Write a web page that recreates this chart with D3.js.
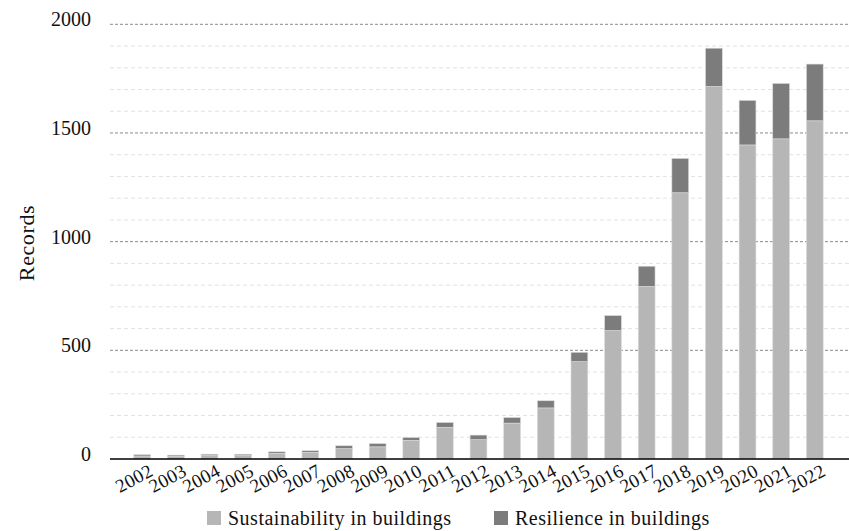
<!DOCTYPE html>
<html><head><meta charset="utf-8">
<script src="https://cdn.jsdelivr.net/npm/d3@7"></script>
<style>body{margin:0;background:#fff}svg{display:block}</style>
</head><body>
<svg id="c" width="849" height="531"></svg>
<script>
const years = ["2002","2003","2004","2005","2006","2007","2008","2009","2010","2011","2012","2013","2014","2015","2016","2017","2018","2019","2020","2021","2022"];
const sustainability = [14,13,16,16,26,31,48,56,86,146,89,165,235,448,591,794,1225,1714,1445,1473,1556];
const resilience = [6,5,6,6,7,7,13,15,13,22,21,26,33,43,69,93,158,176,205,255,261];
const majorTicks = [0,500,1000,1500,2000];
const minorTicks = d3.range(0,2001,100).filter(v => v % 500 !== 0);
const seriesNames = ["Sustainability in buildings","Resilience in buildings"];
const colors = ["#b6b6b6","#7b7c7b"];

const svg = d3.select("#c");
const font = "'Liberation Serif','DejaVu Serif',serif";
const x = d3.scaleBand().domain(years).range([117,840]).padding(0.5);
const y = d3.scaleLinear().domain([0,2000]).range([459,24.3]);

// minor grid
svg.append("g").selectAll("line").data(minorTicks).join("line")
  .attr("x1",110).attr("x2",849).attr("y1",d=>y(d)).attr("y2",d=>y(d))
  .attr("stroke","#e2e2e2").attr("stroke-width",1).attr("stroke-dasharray","4,3");
// major grid
svg.append("g").selectAll("line").data(majorTicks.filter(d=>d>0)).join("line")
  .attr("x1",110).attr("x2",849).attr("y1",d=>y(d)).attr("y2",d=>y(d))
  .attr("stroke","#8a8a8a").attr("stroke-width",1).attr("stroke-dasharray","3,2");

// stacked bars
const rows = years.map((yr,i)=>({year:yr, s:sustainability[i], r:resilience[i]}));
const stack = d3.stack().keys(["s","r"])(rows);
svg.append("g").selectAll("g").data(stack).join("g")
  .attr("fill",(d,i)=>colors[i])
  .selectAll("rect").data(d=>d).join("rect")
  .attr("x",d=>x(d.data.year)).attr("width",x.bandwidth())
  .attr("y",d=>y(d[1])).attr("height",d=>y(d[0])-y(d[1]))
  .attr("stroke","#dcdcdc").attr("stroke-width",0.6);

// x axis line
svg.append("line").attr("x1",110).attr("x2",849).attr("y1",y(0)).attr("y2",y(0))
  .attr("stroke","#000").attr("stroke-width",1.6);

// y tick labels
svg.append("g").selectAll("text").data(majorTicks).join("text")
  .attr("x",91).attr("y",d=>y(d)).attr("dy","0.1em")
  .attr("text-anchor","end").attr("font-family",font).attr("font-size",20)
  .attr("fill","#111").text(d=>d);

// x tick labels
svg.append("g").selectAll("text").data(years).join("text")
  .attr("text-anchor","end").attr("font-family",font).attr("font-size",19)
  .attr("letter-spacing",0.3).attr("fill","#111")
  .attr("transform",d=>`translate(${x(d)+x.bandwidth()/2+9},${y(0)+10}) rotate(-28)`)
  .attr("dy","0.35em").text(d=>d);

// y axis title
svg.append("text").attr("transform","translate(34,243) rotate(-90)")
  .attr("text-anchor","middle").attr("font-family",font).attr("font-size",22)
  .attr("letter-spacing",0.6).attr("fill","#111").text("Records");

// legend
const legX = [207,494];
const lg = svg.append("g").selectAll("g").data(seriesNames).join("g")
  .attr("transform",(d,i)=>`translate(${legX[i]},511)`);
lg.append("rect").attr("width",14).attr("height",14).attr("fill",(d,i)=>colors[i]);
lg.append("text").attr("x",21).attr("y",14).attr("font-family",font).attr("font-size",20)
  .attr("letter-spacing",0.5).attr("fill","#111").text(d=>d);
</script>
</body></html>
